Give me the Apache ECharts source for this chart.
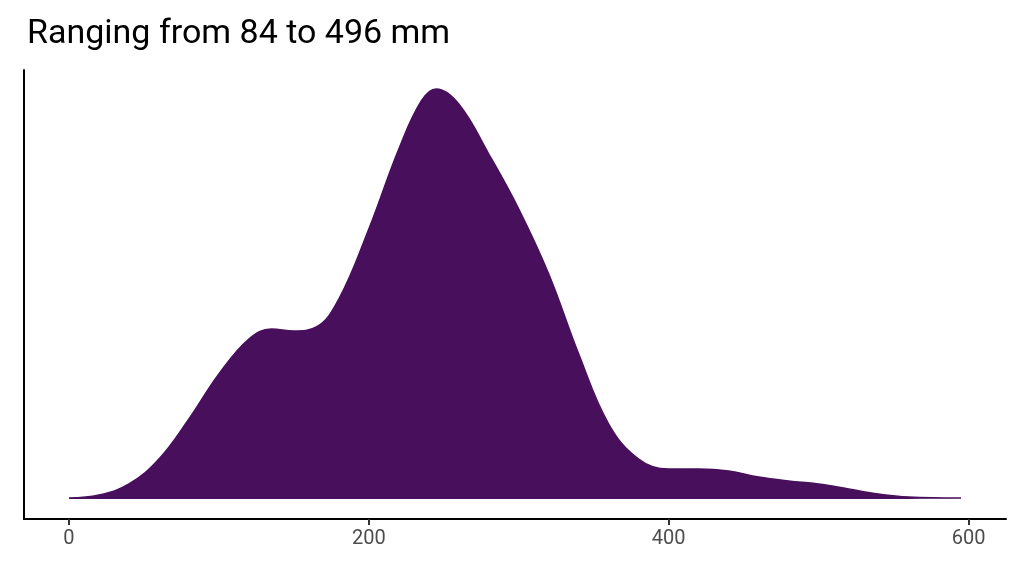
<!DOCTYPE html>
<html>
<head>
<meta charset="utf-8">
<script src="https://cdn.jsdelivr.net/npm/echarts@6/dist/echarts.min.js"></script>
<style>html,body{margin:0;padding:0;background:#fff}#chart{width:1024px;height:576px}</style>
</head>
<body>
<div id="chart"></div>
<script>
// density curve (x in mm, height in arbitrary units)
const xs = [0, 20, 40, 60, 80, 100, 120, 135, 150, 165, 180, 200, 220, 235, 245, 260, 280, 300, 320, 340, 360, 380, 400, 420, 440, 460, 480, 500, 520, 540, 560, 595];
const ys = [1, 4, 15, 40, 80, 125, 160, 170, 168, 172, 200, 270, 350, 398, 410, 395, 345, 290, 225, 145, 75, 40, 30, 30, 28, 22, 18, 15, 10, 5, 2, 1];
const xTicks = [0, 200, 400, 600];

const chart = echarts.init(document.getElementById('chart'));
chart.setOption({
  animation: false,
  title: {
    text: 'Ranging from 84 to 496 mm',
    left: 22, top: 12,
    textStyle: { fontFamily: 'Roboto, sans-serif', fontSize: 34, fontWeight: 'normal', color: '#000' }
  },
  grid: { left: 24, right: 18, top: 70, bottom: 57 },
  xAxis: {
    type: 'value', min: -30, max: 625,
    axisLine: { onZero: false, lineStyle: { color: '#000', width: 2 } },
    axisTick: { show: true, length: 6, customValues: xTicks, lineStyle: { color: '#333', width: 2 } },
    axisLabel: {
      color: '#4d4d4d', fontSize: 20, fontFamily: 'Roboto, sans-serif', margin: 10,
      customValues: xTicks
    },
    splitLine: { show: false }
  },
  yAxis: {
    type: 'value', min: -20, max: 429,
    axisLine: { show: true, onZero: false, lineStyle: { color: '#000', width: 2 } },
    axisTick: { show: false }, axisLabel: { show: false }, splitLine: { show: false }
  },
  series: [{
    type: 'line', smooth: 0.4, symbol: 'none',
    data: xs.map((x, i) => [x, ys[i]]),
    lineStyle: { color: '#480f5c', width: 1.5 },
    areaStyle: { color: '#480f5c', opacity: 1, origin: 'auto' }
  }]
});
</script>
</body>
</html>
